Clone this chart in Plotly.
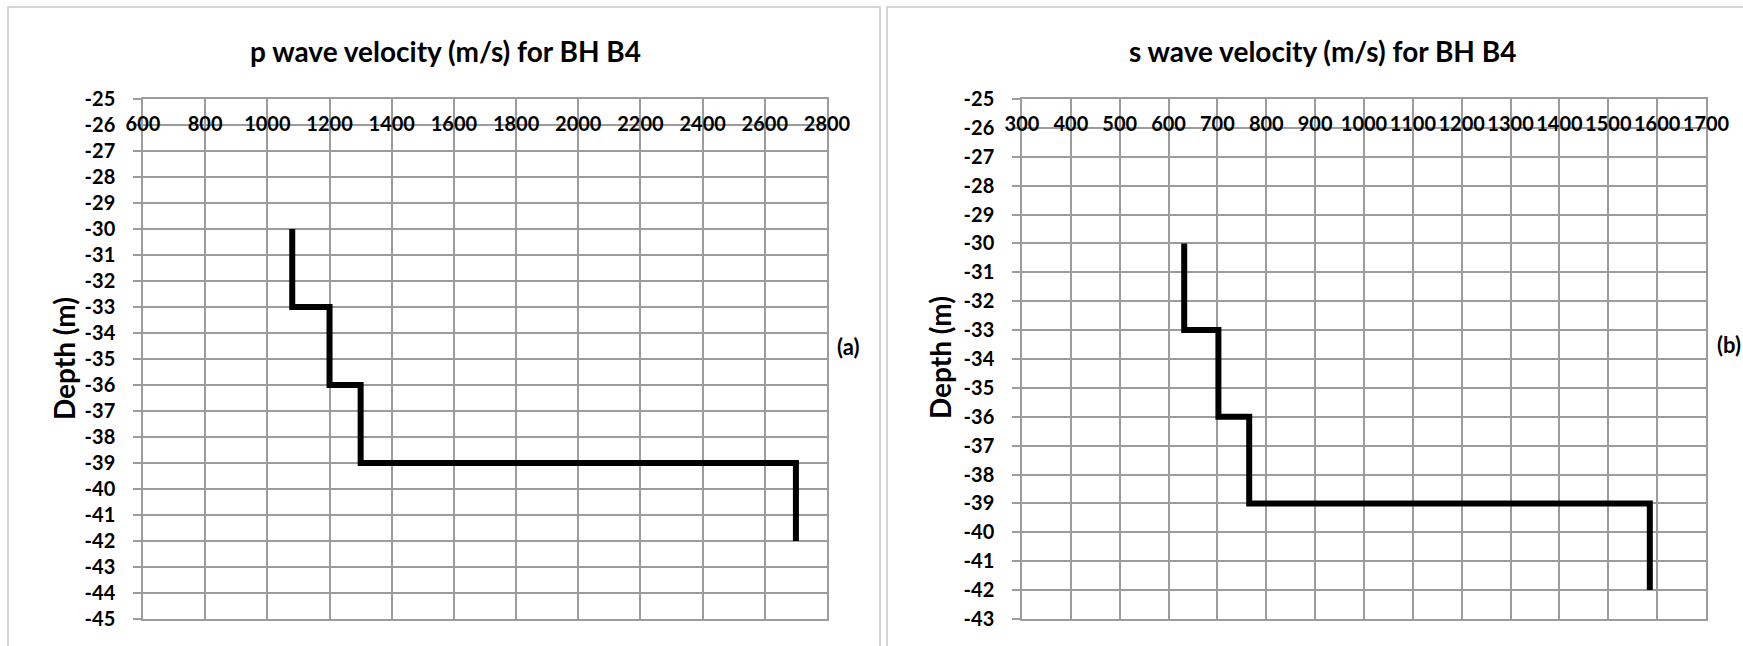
import plotly.graph_objects as go

# ---- data ----
depth_path = [-30, -33, -33, -36, -36, -39, -39, -42]
p_velocity = [1080, 1080, 1200, 1200, 1300, 1300, 2700, 2700]
s_velocity = [632, 632, 702, 702, 765, 765, 1585, 1585]

p_x_ticks = [600, 800, 1000, 1200, 1400, 1600, 1800, 2000, 2200, 2400, 2600, 2800]
s_x_ticks = [300, 400, 500, 600, 700, 800, 900, 1000, 1100, 1200, 1300, 1400,
             1500, 1600, 1700]
p_y_ticks = [-25, -26, -27, -28, -29, -30, -31, -32, -33, -34, -35, -36, -37,
             -38, -39, -40, -41, -42, -43, -44, -45]
s_y_ticks = [-25, -26, -27, -28, -29, -30, -31, -32, -33, -34, -35, -36, -37,
             -38, -39, -40, -41, -42, -43]

p_title = "p wave velocity (m/s) for BH B4"
s_title = "s wave velocity (m/s) for BH B4"
y_title = "Depth (m)"
labels = ["(a)", "(b)"]

W, H = 1743, 646
FONT = "Lato"
GRID = "#9c9c9c"


def px(x):
    return x / W


def py(y):
    return 1 - y / H


def btext(vals):
    return ["<b>%d</b>" % v for v in vals]


fig = go.Figure()
fig.add_trace(go.Scatter(x=p_velocity, y=depth_path, mode="lines",
                         line=dict(color="black", width=6), xaxis="x", yaxis="y",
                         showlegend=False, hoverinfo="skip"))
fig.add_trace(go.Scatter(x=s_velocity, y=depth_path, mode="lines",
                         line=dict(color="black", width=6), xaxis="x2", yaxis="y2",
                         showlegend=False, hoverinfo="skip"))
# invisible carriers for the label axes
fig.add_trace(go.Scatter(x=p_velocity, y=depth_path, mode="lines", opacity=0,
                         xaxis="x3", yaxis="y", showlegend=False, hoverinfo="skip"))
fig.add_trace(go.Scatter(x=s_velocity, y=depth_path, mode="lines", opacity=0,
                         xaxis="x4", yaxis="y2", showlegend=False, hoverinfo="skip"))

tickfont = dict(family=FONT, size=20, color="black")

xgrid = dict(side="top", showgrid=True, gridcolor=GRID, gridwidth=1.5,
             ticks="", showticklabels=False, showline=True, linecolor=GRID,
             linewidth=1.5, mirror=True, zeroline=False, fixedrange=True,
             automargin=False)
xlab = dict(side="bottom", anchor="free", position=py(99), showgrid=False,
            ticks="", showline=False, zeroline=False, tickangle=0,
            ticklabelstandoff=11, tickfont=tickfont, fixedrange=True,
            automargin=False)
ycommon = dict(showgrid=True, gridcolor=GRID, gridwidth=1.5,
               ticks="outside", ticklen=8, tickcolor=GRID, tickwidth=1.5,
               ticklabelstandoff=14, tickfont=tickfont, showline=True,
               linecolor=GRID, linewidth=1.5, mirror=True, zeroline=False,
               fixedrange=True, automargin=False)

yd = [py(619), py(99)]
fig.update_layout(
    width=W, height=H, margin=dict(l=0, r=0, t=0, b=0, pad=0, autoexpand=False),
    paper_bgcolor="white", plot_bgcolor="white",
    xaxis=dict(domain=[px(143), px(827)], range=[600, 2800],
               tickvals=p_x_ticks, anchor="y", **xgrid),
    xaxis3=dict(overlaying="x", range=[600, 2800], tickvals=p_x_ticks,
                ticktext=btext(p_x_ticks), **xlab),
    yaxis=dict(domain=yd, range=[-45, -25], tickvals=p_y_ticks,
               ticktext=btext(p_y_ticks), anchor="x", **ycommon),
    xaxis2=dict(domain=[px(1022), px(1706)], range=[300, 1700],
                tickvals=s_x_ticks, anchor="y2", **xgrid),
    xaxis4=dict(overlaying="x2", range=[300, 1700], tickvals=s_x_ticks,
                ticktext=btext(s_x_ticks), **xlab),
    yaxis2=dict(domain=yd, range=[-43, -25], tickvals=s_y_ticks,
                ticktext=btext(s_y_ticks), anchor="x2", **ycommon),
)

# panel borders
for x0, x1 in [(8, 880), (887, 1760)]:
    fig.add_shape(type="rect", xref="paper", yref="paper",
                  x0=px(x0), x1=px(x1), y0=py(680), y1=py(7),
                  line=dict(color="#c8c8c8", width=1.5), fillcolor="rgba(0,0,0,0)",
                  layer="below")

title_font = dict(family=FONT, size=28, color="black", weight="bold")
fig.add_annotation(text="<b>%s</b>" % p_title, x=px(445), y=py(51), xref="paper",
                   yref="paper", showarrow=False, font=title_font,
                   xanchor="center", yanchor="middle")
fig.add_annotation(text="<b>%s</b>" % s_title, x=px(1322), y=py(51), xref="paper",
                   yref="paper", showarrow=False, font=title_font,
                   xanchor="center", yanchor="middle")

ytf = dict(family=FONT, size=28, color="black", weight="bold")
for xc in (64, 940):
    fig.add_annotation(text="<b>%s</b>" % y_title, x=px(xc), y=py(358),
                       xref="paper", yref="paper", showarrow=False, font=ytf,
                       textangle=-90, xanchor="center", yanchor="middle")

lf = dict(family=FONT, size=22, color="black", weight="bold")
fig.add_annotation(text="<b>%s</b>" % labels[0], x=px(848), y=py(346), xref="paper",
                   yref="paper", showarrow=False, font=lf, xanchor="center",
                   yanchor="middle")
fig.add_annotation(text="<b>%s</b>" % labels[1], x=px(1743), y=py(345), xref="paper",
                   yref="paper", showarrow=False, font=lf, xanchor="right",
                   yanchor="middle")

fig.write_html("out.html")
